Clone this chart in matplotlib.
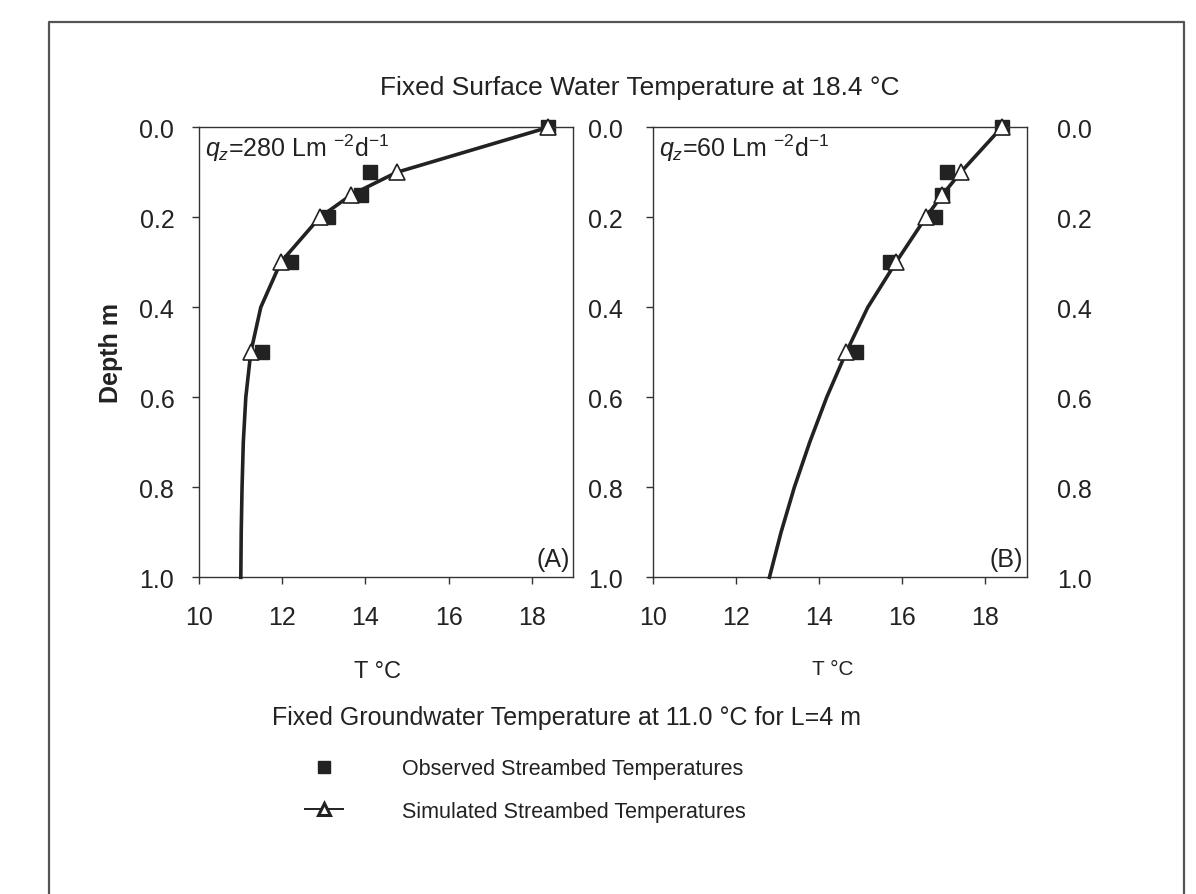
import matplotlib
matplotlib.use('Agg')
import matplotlib.pyplot as plt
from matplotlib.lines import Line2D

plt.rcParams['font.family'] = ['Liberation Sans', 'DejaVu Sans']
plt.rcParams['mathtext.fontset'] = 'custom'
plt.rcParams['mathtext.rm'] = 'Liberation Sans'
plt.rcParams['mathtext.it'] = 'Liberation Sans:italic'

ink = '#222222'

# panel A, q_z = 280
obs_depth_a = [0.0, 0.1, 0.15, 0.2, 0.3, 0.5]
obs_temp_a = [18.4, 14.1, 13.9, 13.1, 12.2, 11.5]
sim_depth_a = [0.0, 0.1, 0.15, 0.2, 0.3, 0.4, 0.5, 0.6, 0.7, 0.8, 0.9, 1.0]
sim_temp_a = [18.4, 14.75, 13.66, 12.9, 11.96, 11.48, 11.24, 11.12, 11.06, 11.03, 11.01, 11.0]

# panel B, q_z = 60
obs_depth_b = [0.0, 0.1, 0.15, 0.2, 0.3, 0.5]
obs_temp_b = [18.4, 17.09, 16.97, 16.79, 15.71, 14.89]
sim_depth_b = [0.0, 0.1, 0.15, 0.2, 0.3, 0.4, 0.5, 0.6, 0.7, 0.8, 0.9, 1.0]
sim_temp_b = [18.4, 17.41, 16.97, 16.57, 15.85, 15.17, 14.65, 14.18, 13.77, 13.4, 13.08, 12.8]

marked = [0, 1, 2, 3, 4, 6]  # simulated points that carry a triangle

xticks = [10, 12, 14, 16, 18]
yticks = [0.0, 0.2, 0.4, 0.6, 0.8, 1.0]

fig = plt.figure(figsize=(11.96, 8.95), dpi=100)

# outer frame (no bottom edge)
W, H = 1196, 895
fx = [49 / W, 49 / W, 1184 / W, 1184 / W]
fy = [0, 1 - 23 / H, 1 - 23 / H, 0]
fig.add_artist(Line2D(fx, fy, transform=fig.transFigure, color='#555555', lw=1.6))

axA = fig.add_axes([0.1666, 0.3538, 0.3127, 0.5028])
axB = fig.add_axes([0.5462, 0.3538, 0.3122, 0.5028])

panels = [
    (axA, obs_temp_a, obs_depth_a, sim_temp_a, sim_depth_a, r'$q_z$=280 Lm $^{-2}$d$^{-1}$', '(A)'),
    (axB, obs_temp_b, obs_depth_b, sim_temp_b, sim_depth_b, r'$q_z$=60 Lm $^{-2}$d$^{-1}$', '(B)'),
]

for ax, ot, od, st, sd, qlab, tag in panels:
    ax.plot(st, sd, color=ink, lw=2.6, marker='^', markevery=marked,
            markersize=12, markerfacecolor='white', markeredgecolor=ink,
            markeredgewidth=1.2, zorder=3, clip_on=False)
    ax.plot(ot, od, 's', color=ink, markersize=9.5, zorder=2, clip_on=False)
    ax.set_xlim(10, 19)
    ax.set_ylim(1.0, 0.0)
    ax.set_xticks(xticks)
    ax.set_yticks(yticks)
    ax.set_yticklabels(['%.1f' % v for v in yticks])
    for s in ax.spines.values():
        s.set_color('#333333')
        s.set_linewidth(1.0)
    ax.tick_params(axis='both', direction='out', length=5, width=1.0,
                   color='#333333', labelsize=18, labelcolor=ink)
    ax.tick_params(axis='x', pad=15)
    ax.tick_params(axis='y', pad=13)
    ax.text(0.016, 0.99, qlab, transform=ax.transAxes, ha='left', va='top',
            fontsize=18, color=ink)
    ax.text(0.99, 0.015, tag, transform=ax.transAxes, ha='right', va='bottom',
            fontsize=18, color=ink)

axB.tick_params(axis='y', right=False, labelright=True, pad=17)

axA.set_ylabel('Depth m', fontsize=18, fontweight='bold', color=ink, labelpad=12)

fig.text(377 / W, 1 - 672 / H, 'T °C', ha='center', va='center', fontsize=17, color=ink)
fig.text(833 / W, 1 - 670 / H, 'T °C', ha='center', va='center', fontsize=15, color=ink)
fig.text(640 / W, 1 - 88 / H, 'Fixed Surface Water Temperature at 18.4 °C',
         ha='center', va='center', fontsize=19, color=ink)
fig.text(566 / W, 1 - 718 / H, 'Fixed Groundwater Temperature at 11.0 °C for L=4 m',
         ha='center', va='center', fontsize=18, color=ink)

h_obs = Line2D([], [], ls='none', marker='s', color=ink, markersize=9)
h_sim = Line2D([], [], color=ink, lw=1.4, marker='^', markersize=9,
               markerfacecolor='white', markeredgecolor=ink, markeredgewidth=2.2)
fig.legend([h_obs, h_sim], ['Observed Streambed Temperatures', 'Simulated Streambed Temperatures'],
           loc='upper left', bbox_to_anchor=(286 / W, 1 - 740 / H), frameon=False,
           fontsize=15.5, handlelength=1.75, handletextpad=2.75, labelspacing=1.0,
           labelcolor=ink)

fig.savefig('out.png', dpi=100)
